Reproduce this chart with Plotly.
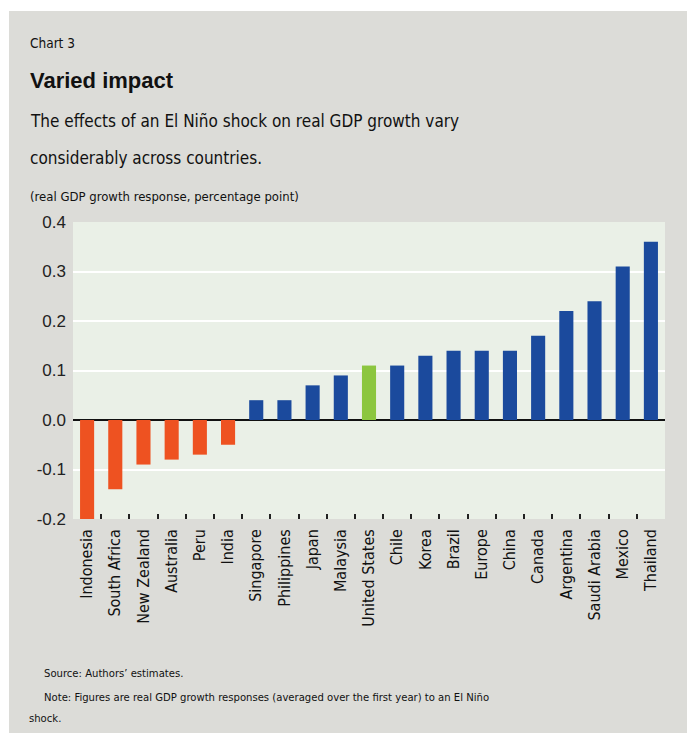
import plotly.graph_objects as go

countries = ["Indonesia", "South Africa", "New Zealand", "Australia", "Peru", "India",
             "Singapore", "Philippines", "Japan", "Malaysia", "United States", "Chile",
             "Korea", "Brazil", "Europe", "China", "Canada", "Argentina", "Saudi Arabia",
             "Mexico", "Thailand"]
values = [-0.20, -0.14, -0.09, -0.08, -0.07, -0.05,
          0.04, 0.04, 0.07, 0.09, 0.11, 0.11,
          0.13, 0.14, 0.14, 0.14, 0.17, 0.22, 0.24,
          0.31, 0.36]
ytick_vals = [-0.2, -0.1, 0.0, 0.1, 0.2, 0.3, 0.4]
ytick_text = ["-0.2", "-0.1", "0.0", "0.1", "0.2", "0.3", "0.4"]

ORANGE = "#ee5221"
BLUE = "#1b4a9d"
GREEN = "#8cc63f"
colors = [ORANGE if v < 0 else (GREEN if c == "United States" else BLUE)
          for c, v in zip(countries, values)]

W, H = 687, 733
L, R, T, B = 73, 22, 222, 214
PW, PH = W - L - R, H - T - B

def px(x):
    return (x - L) / PW

def py(y):
    return (H - B - y) / PH

COND = "DejaVu Sans Condensed, sans-serif"
TXT = "#111111"

fig = go.Figure(go.Bar(x=countries, y=values, marker=dict(color=colors, line=dict(width=0))))

fig.update_layout(
    width=W, height=H,
    margin=dict(l=L, r=R, t=T, b=B),
    paper_bgcolor="#dcdcd8",
    plot_bgcolor="#eaf0e7",
    bargap=0.5,
    showlegend=False,
    xaxis=dict(
        type="category", tickangle=-90, tickson="boundaries",
        ticks="inside", ticklen=5, tickwidth=2, tickcolor="#222",
        tickfont=dict(family=COND, size=16, color=TXT),
        ticklabelstandoff=6,
        showgrid=False, showline=False, zeroline=False,
    ),
    yaxis=dict(
        range=[-0.2, 0.4], tickvals=ytick_vals, ticktext=ytick_text,
        tickfont=dict(family="Liberation Sans, Arial, sans-serif", size=17, color="#222"),
        showgrid=True, gridcolor="white", gridwidth=2,
        zeroline=True, zerolinecolor="#111", zerolinewidth=2,
        ticks="", ticklabelstandoff=6, showline=False,
    ),
    shapes=[
        dict(type="rect", xref="paper", yref="paper", x0=px(0), x1=px(W), y0=py(0), y1=py(11),
             fillcolor="white", line=dict(width=0), layer="above"),
        dict(type="rect", xref="paper", yref="paper", x0=px(0), x1=px(9), y0=py(0), y1=py(H),
             fillcolor="white", line=dict(width=0), layer="above"),
    ],
)

def ann(text, x, y, size, bold=False, family=COND, color=TXT):
    fig.add_annotation(
        text=f"<b>{text}</b>" if bold else text,
        xref="paper", yref="paper", x=px(x), y=py(y),
        xanchor="left", yanchor="middle", showarrow=False,
        font=dict(family=family, size=size, color=color),
    )

ann("Chart 3", 28, 43, 13.5)
ann("Varied impact", 28, 80, 22, bold=True, family="Liberation Sans, Arial, sans-serif")
ann("The effects of an El Niño shock on real GDP growth vary", 28, 121, 17)
ann("considerably across countries.", 28, 158, 17)
ann("(real GDP growth response, percentage point)", 28, 196, 13)
ann("Source: Authors’ estimates.", 42, 673, 11.2)
ann("Note: Figures are real GDP growth responses (averaged over the first year) to an El Niño", 42, 697, 11.2)
ann("shock.", 27, 718, 11.2)

fig.write_html("out.html")
